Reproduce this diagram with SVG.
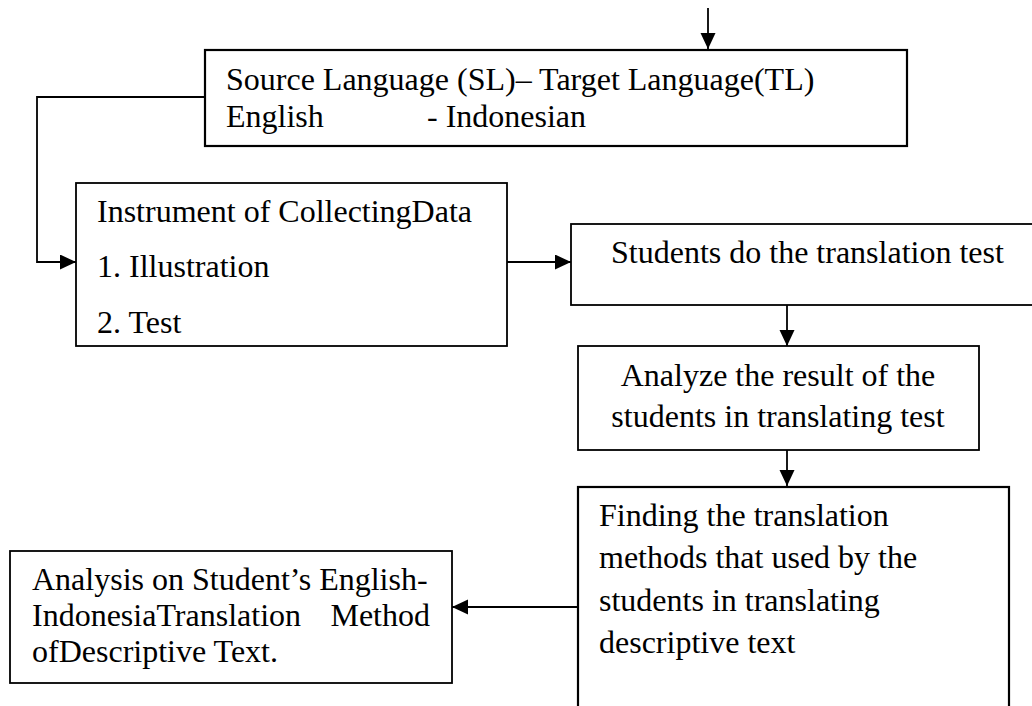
<svg xmlns="http://www.w3.org/2000/svg" width="1032" height="706" viewBox="0 0 1032 706">
<style>
  .box { fill: #ffffff; stroke: #000000; stroke-width: 1.8; }
  .thick { stroke-width: 2.2; }
  .t { font-family: "Liberation Serif", "Times New Roman", serif; font-size: 32px; fill: #000000; }
  .mid { text-anchor: middle; }
  .end { text-anchor: end; }
  .conn { fill: none; stroke: #000000; stroke-width: 1.8; marker-end: url(#arrow); }
</style>
<defs>
  <marker id="arrow" markerUnits="userSpaceOnUse" markerWidth="16" markerHeight="16" refX="16" refY="7.5" orient="auto">
    <path d="M0,0 L16,7.5 L0,15 Z" fill="#000000"/>
  </marker>
</defs>
<rect width="1032" height="706" fill="#ffffff"/>

<g id="connectors">
  <path class="conn" d="M708,8 L708,49"/>
  <path class="conn" d="M204,97 L37,97 L37,262 L76,262"/>
  <path class="conn" d="M507,262 L571,262"/>
  <path class="conn" d="M787,305 L787,346"/>
  <path class="conn" d="M787,450 L787,486"/>
  <path class="conn" d="M578,607 L452,607"/>
</g>

<g id="node-sl-tl">
  <rect class="box thick" x="205" y="50" width="702" height="96"/>
  <text class="t" x="226" y="90">Source Language (SL)– Target Language(TL)</text>
  <text class="t" x="226" y="127">English</text>
  <text class="t" x="427" y="127">- Indonesian</text>
</g>

<g id="node-instrument">
  <rect class="box" x="76" y="183" width="431" height="163"/>
  <text class="t" x="97" y="222">Instrument of CollectingData</text>
  <text class="t" x="97" y="277">1. Illustration</text>
  <text class="t" x="97" y="333">2. Test</text>
</g>

<g id="node-students-test">
  <rect class="box" x="571" y="224" width="480" height="81"/>
  <text class="t" x="611" y="263">Students do the translation test</text>
</g>

<g id="node-analyze">
  <rect class="box" x="578" y="346" width="401" height="104"/>
  <text class="t mid" x="778" y="386">Analyze the result of the</text>
  <text class="t mid" x="778" y="427">students in translating test</text>
</g>

<g id="node-finding">
  <rect class="box thick" x="578" y="487" width="431" height="240"/>
  <text class="t" x="599" y="526">Finding the translation</text>
  <text class="t" x="599" y="568">methods that used by the</text>
  <text class="t" x="599" y="611">students in translating</text>
  <text class="t" x="599" y="653">descriptive text</text>
</g>

<g id="node-analysis">
  <rect class="box" x="10" y="551" width="442" height="132"/>
  <text class="t" x="32" y="590">Analysis on Student’s English-</text>
  <text class="t" x="32" y="626">IndonesiaTranslation</text>
  <text class="t end" x="430" y="626">Method</text>
  <text class="t" x="32" y="662">ofDescriptive Text.</text>
</g>
</svg>
